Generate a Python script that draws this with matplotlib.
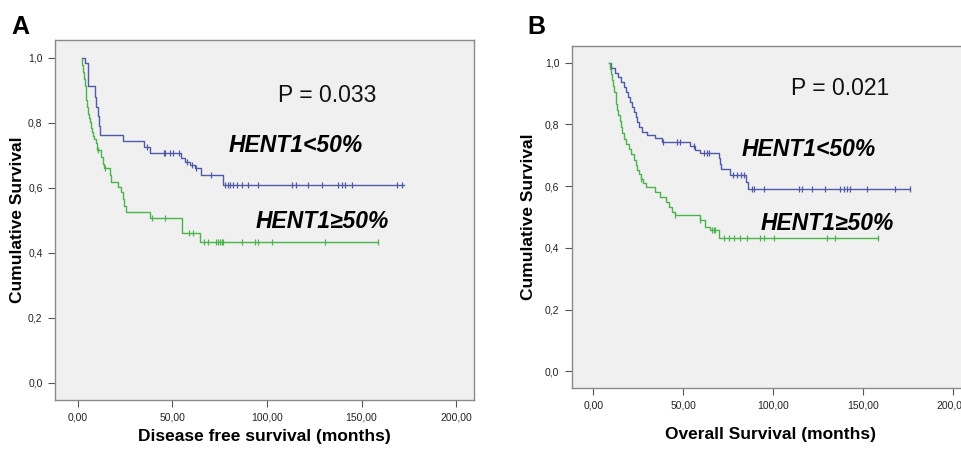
import numpy as np
import matplotlib
matplotlib.use("Agg")
import matplotlib.pyplot as plt

plt.rcParams['font.family'] = ['Liberation Sans', 'DejaVu Sans']

# ---------------- data ----------------
# Panel A: disease free survival
a_low_t = [2.0, 3.7, 5.5, 9.0, 9.8, 10.5, 11.1, 11.6, 24.0, 34.9, 38.1, 54.8, 56.6, 59.3, 61.9, 65.4, 76.6]
a_low_s = [1.0, 0.985, 0.914, 0.88, 0.85, 0.82, 0.79, 0.762, 0.743, 0.727, 0.707, 0.691, 0.681, 0.671, 0.66, 0.64, 0.609]
a_low_end = 172.5
a_low_cens = [36.5, 45.5, 46.2, 48.8, 50.5, 53.5, 58.0, 60.5, 62.5, 70.2, 77.8, 79.5, 80.4, 82.2, 84.0,
              86.6, 90.1, 95.4, 113.0, 115.3, 121.8, 128.9, 137.7, 139.5, 141.3, 144.8, 168.6, 171.3]

a_high_t = [2.0, 2.5, 3.0, 3.4, 3.8, 4.2, 4.6, 5.0, 5.4, 5.9, 6.4, 7.0, 7.6, 8.2, 8.8, 9.4, 10.0,
            12.5, 13.4, 14.0, 16.9, 17.8, 21.3, 23.1, 24.0, 24.6, 25.4, 38.1, 54.9, 64.6]
a_high_s = [1.0, 0.978, 0.957, 0.935, 0.913, 0.891, 0.870, 0.848, 0.826, 0.815, 0.804, 0.783, 0.772, 0.761, 0.75, 0.739, 0.717,
            0.696, 0.674, 0.66, 0.638, 0.617, 0.604, 0.587, 0.565, 0.543, 0.527, 0.507, 0.46, 0.432]
a_high_end = 158.9
a_high_cens = [10.7, 14.5, 39.0, 46.0, 59.0, 61.0, 67.0, 69.0, 73.0, 74.0, 75.0, 76.0, 77.0,
               86.6, 93.7, 95.4, 102.5, 130.7, 158.9]

# Panel B: overall survival
b_low_t = [8.7, 10.0, 12.0, 14.0, 15.5, 17.0, 18.2, 19.4, 20.5, 21.5, 22.5, 23.5, 24.5, 25.5, 27.0,
           30.0, 34.6, 38.3, 54.0, 56.8, 59.6, 69.8, 70.3, 70.8, 76.3, 85.0, 86.0]
b_low_s = [1.0, 0.984, 0.968, 0.952, 0.936, 0.920, 0.904, 0.888, 0.872, 0.856, 0.840, 0.824, 0.808, 0.792, 0.776,
           0.766, 0.755, 0.742, 0.729, 0.717, 0.706, 0.69, 0.673, 0.657, 0.635, 0.614, 0.592]
b_low_end = 176.3
b_low_cens = [39.0, 46.7, 48.5, 56.0, 61.5, 63.3, 64.5, 78.0, 80.0, 82.0, 83.6, 88.3, 89.2, 94.8,
              114.2, 116.1, 121.7, 129.0, 137.4, 139.5, 141.0, 143.0, 152.2, 168.0, 176.3]

b_high_t = [8.7, 9.2, 10.0, 10.6, 11.2, 11.8, 12.4, 12.9, 13.4, 14.0, 14.6, 15.2, 16.0, 17.0, 18.0,
            19.8, 21.0, 22.6, 23.5, 24.4, 25.3, 26.3, 27.5, 29.1, 34.6, 37.4, 40.2, 42.0, 43.9, 45.7,
            59.6, 62.4, 65.2, 69.8]
b_high_s = [1.0, 0.98, 0.962, 0.943, 0.924, 0.905, 0.886, 0.867, 0.848, 0.829, 0.81, 0.791, 0.772, 0.753, 0.737,
            0.72, 0.703, 0.686, 0.669, 0.652, 0.638, 0.624, 0.61, 0.597, 0.581, 0.565, 0.549, 0.532, 0.516, 0.505,
            0.489, 0.468, 0.457, 0.432]
b_high_end = 158.7
b_high_cens = [26.3, 45.7, 59.6, 66.0, 67.0, 68.0, 72.6, 75.3, 78.1, 81.8, 85.5, 93.0, 94.8, 100.3,
               130.0, 134.6, 158.7]

x_ticks = [0, 50, 100, 150, 200]
x_tick_labels = ["0,00", "50,00", "100,00", "150,00", "200,00"]
y_ticks = [0.0, 0.2, 0.4, 0.6, 0.8, 1.0]
y_tick_labels = ["0,0", "0,2", "0,4", "0,6", "0,8", "1,0"]

BLUE = '#4f5aa8'
GREEN = '#4cb44c'
BG = '#f0f0f0'

fig = plt.figure(figsize=(9.62, 4.51), dpi=100)
fig.patch.set_facecolor('white')


def km(ax, t, s, end, cens, color):
    t = np.asarray(t); s = np.asarray(s)
    ax.step(np.append(t, end), np.append(s, s[-1]), where='post', color=color, lw=1.0)
    c = np.asarray(cens)
    idx = np.searchsorted(t, c, side='right') - 1
    ax.plot(c, s[idx], linestyle='none', marker='|', ms=5, mew=0.9, color=color)


def style(ax, xlabel, xpad, ypad):
    ax.set_facecolor(BG)
    ax.set_xlim(-12.0, 209.5)
    ax.set_ylim(-0.053, 1.055)
    ax.set_xticks(x_ticks)
    ax.set_xticklabels(x_tick_labels)
    ax.set_yticks(y_ticks)
    ax.set_yticklabels(y_tick_labels)
    for sp in ax.spines.values():
        sp.set_color('#8a8a8a')
        sp.set_linewidth(1.0)
    ax.tick_params(direction='out', length=5, width=0.8, color='#555555',
                   labelsize=7.5, labelcolor='#222222', pad=4)
    ax.set_ylabel("Cumulative Survival", fontsize=12.5, fontweight='bold', labelpad=ypad)
    ax.set_xlabel(xlabel, fontsize=12.5, fontweight='bold', labelpad=xpad)


# Panel A
axA = fig.add_axes([0.0572, 0.1131, 0.4356, 0.7982])
style(axA, "Disease free survival (months)", 5, 2)
km(axA, a_low_t, a_low_s, a_low_end, a_low_cens, BLUE)
km(axA, a_high_t, a_high_s, a_high_end, a_high_cens, GREEN)
axA.text(106, 0.885, "P = 0.033", fontsize=16.5, ha='left', va='center', color='#111111')
axA.text(80, 0.73, "HENT1<50%", fontsize=16.5, fontweight='bold', style='italic', ha='left', va='center')
axA.text(94, 0.495, "HENT1≥50%", fontsize=16.5, fontweight='bold', style='italic', ha='left', va='center')
fig.text(0.012, 0.94, "A", fontsize=18, fontweight='bold', ha='left', va='center')

# Panel B
axB = fig.add_axes([0.5943, 0.1404, 0.4138, 0.7583])
style(axB, "Overall Survival (months)", 12, 6)
km(axB, b_low_t, b_low_s, b_low_end, b_low_cens, BLUE)
km(axB, b_high_t, b_high_s, b_high_end, b_high_cens, GREEN)
axB.text(110, 0.915, "P = 0.021", fontsize=16.5, ha='left', va='center', color='#111111')
axB.text(82.5, 0.72, "HENT1<50%", fontsize=16.5, fontweight='bold', style='italic', ha='left', va='center')
axB.text(93, 0.48, "HENT1≥50%", fontsize=16.5, fontweight='bold', style='italic', ha='left', va='center')
fig.text(0.548, 0.94, "B", fontsize=18, fontweight='bold', ha='left', va='center')

fig.savefig("out.png", dpi=100, facecolor='white')
